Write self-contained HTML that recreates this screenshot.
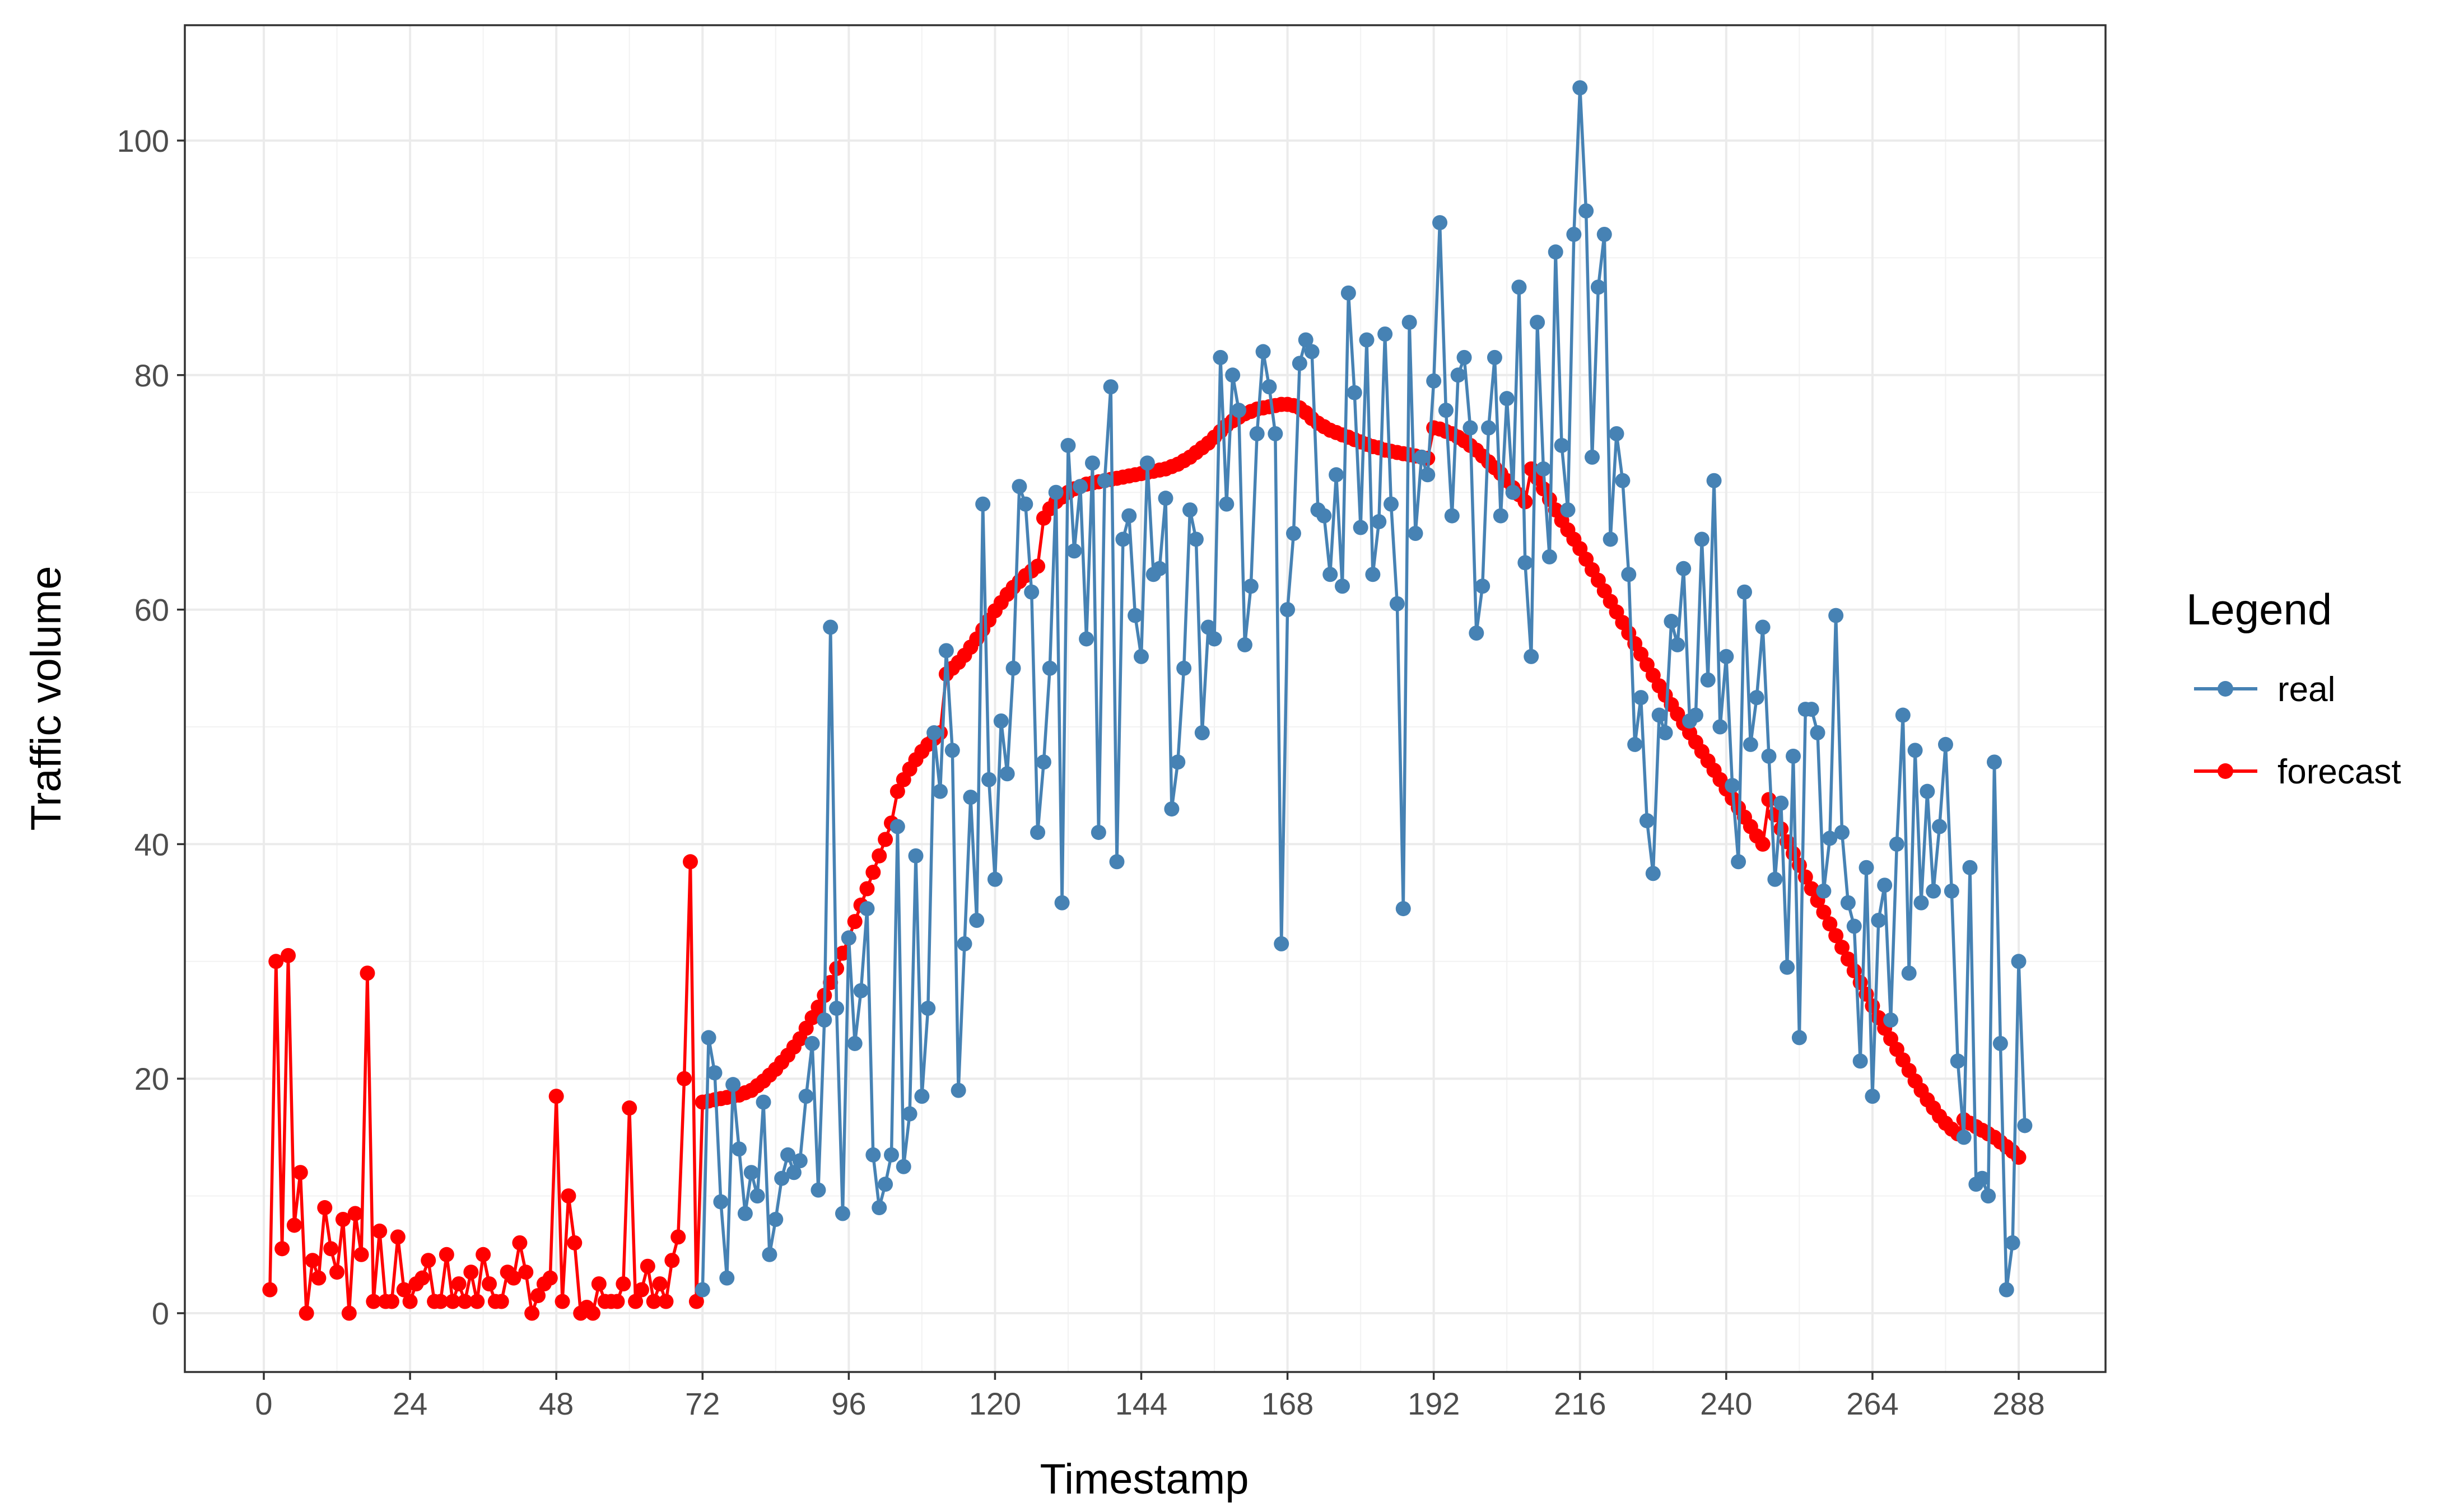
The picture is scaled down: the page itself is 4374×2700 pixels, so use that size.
<!DOCTYPE html>
<html><head><meta charset="utf-8">
<style>
html,body{margin:0;padding:0;background:#fff;}
svg{display:block;font-family:"Liberation Sans",Arial,sans-serif;}
</style></head>
<body>
<svg id="chart" width="4374" height="2700" viewBox="0 0 4374 2700" xmlns="http://www.w3.org/2000/svg">
<rect x="0" y="0" width="4374" height="2700" fill="#fff"/>
<g id="grid"></g>
<g id="series"></g>
<rect x="330" y="45" width="3429" height="2405" fill="none" stroke="#333" stroke-width="3.5"/>
<g id="axes"></g>
<text x="2043" y="2667" font-size="76" text-anchor="middle" fill="#000">Timestamp</text>
<text x="0" y="0" font-size="76" text-anchor="middle" fill="#000" transform="translate(108,1247) rotate(-90)">Traffic volume</text>
<g>
<text x="3903" y="1115" font-size="78" fill="#000">Legend</text>
<g>
<line x1="3917" y1="1230" x2="4030" y2="1230" stroke="#4682b4" stroke-width="6"/>
<circle cx="3973" cy="1230" r="14" fill="#4682b4"/>
<text x="4066" y="1252" font-size="62" fill="#000">real</text>
</g>
<g>
<line x1="3917" y1="1377" x2="4030" y2="1377" stroke="#ff0000" stroke-width="6"/>
<circle cx="3973" cy="1377" r="14" fill="#ff0000"/>
<text x="4066" y="1399" font-size="62" fill="#000">forecast</text>
</g>
</g>
</svg>
<script>
const xTicks = [0,24,48,72,96,120,144,168,192,216,240,264,288];
const yTicks = [0,20,40,60,80,100];
const realStart = 72;
const realValues = [2,23.5,20.5,9.5,3,19.5,14,8.5,12,10,18,5,8,11.5,13.5,12,13,18.5,23,10.5,25,58.5,26,8.5,32,23,27.5,34.5,13.5,9,11,13.5,41.5,12.5,17,39,18.5,26,49.5,44.5,56.5,48,19,31.5,44,33.5,69,45.5,37,50.5,46,55,70.5,69,61.5,41,47,55,70,35,74,65,70.5,57.5,72.5,41,71,79,38.5,66,68,59.5,56,72.5,63,63.5,69.5,43,47,55,68.5,66,49.5,58.5,57.5,81.5,69,80,77,57,62,75,82,79,75,31.5,60,66.5,81,83,82,68.5,68,63,71.5,62,87,78.5,67,83,63,67.5,83.5,69,60.5,34.5,84.5,66.5,73,71.5,79.5,93,77,68,80,81.5,75.5,58,62,75.5,81.5,68,78,70,87.5,64,56,84.5,72,64.5,90.5,74,68.5,92,104.5,94,73,87.5,92,66,75,71,63,48.5,52.5,42,37.5,51,49.5,59,57,63.5,50.5,51,66,54,71,50,56,45,38.5,61.5,48.5,52.5,58.5,47.5,37,43.5,29.5,47.5,23.5,51.5,51.5,49.5,36,40.5,59.5,41,35,33,21.5,38,18.5,33.5,36.5,25,40,51,29,48,35,44.5,36,41.5,48.5,36,21.5,15,38,11,11.5,10,47,23,2,6,30,16];
const forecastStart = 1;
const forecastValues = [2,30,5.5,30.5,7.5,12,0,4.5,3,9,5.5,3.5,8,0,8.5,5,29,1,7,1,1,6.5,2,1,2.5,3,4.5,1,1,5,1,2.5,1,3.5,1,5,2.5,1,1,3.5,3,6,3.5,0,1.5,2.5,3,18.5,1,10,6,0,0.5,0,2.5,1,1,1,2.5,17.5,1,2,4,1,2.5,1,4.5,6.5,20,38.5,1,18,
18.1,18.2,18.3,18.4,18.5,18.6,18.8,19.0,
19.4,19.8,20.3,20.8,21.4,22.0,22.7,23.4,
24.3,25.2,26.1,27.1,28.2,29.4,30.7,32.0,
33.4,34.8,36.2,37.6,39.0,40.4,41.8,44.5,
45.5,46.4,47.2,47.9,48.5,49.0,49.5,
54.5,55.0,55.5,56.1,56.8,57.5,58.3,59.1,59.9,
60.6,61.3,61.9,62.4,62.9,63.3,63.7,
67.8,68.6,69.2,69.6,70.0,70.3,70.5,70.7,70.8,
70.9,71.0,71.1,71.2,71.3,71.4,71.5,71.6,71.7,71.8,71.9,72.0,
72.2,72.4,72.7,73.0,73.4,73.8,74.2,74.7,75.2,75.7,76.1,76.4,
76.7,76.9,77.1,77.2,77.3,77.4,77.5,77.5,77.4,77.2,76.8,76.3,
75.9,75.6,75.3,75.1,74.9,74.7,74.5,74.3,74.1,73.9,73.8,73.6,
73.5,73.4,73.3,73.2,73.1,73.0,72.9,
75.5,75.4,75.2,75.0,74.7,74.4,74.0,73.6,73.1,72.6,72.1,71.6,
71.0,70.4,69.8,69.2,72.0,71.2,70.3,69.4,68.5,67.6,66.8,66.0,
65.2,64.3,63.4,62.5,61.6,60.7,59.8,58.9,58.0,57.1,56.2,55.3,
54.4,53.5,52.7,51.9,51.1,50.3,49.5,48.7,47.9,47.1,46.3,45.5,
44.7,43.9,43.1,42.3,41.5,40.7,40.0,43.8,42.5,41.3,40.2,39.2,
38.2,37.2,36.2,35.2,34.2,33.2,32.2,31.2,30.2,29.2,28.2,27.2,
26.2,25.2,24.3,23.4,22.5,21.6,20.7,19.8,19.0,18.2,17.5,16.8,
16.2,15.7,15.3,16.5,16.2,15.9,15.6,15.3,15.0,14.6,14.2,13.8,13.3];

const NS = "http://www.w3.org/2000/svg";
const PL = 330, PR = 3759, PT = 45, PB = 2450;
function xs(t){ return 471 + t * (3604 - 471) / 288; }
function ys(v){ return 2345 - v * (2345 - 251) / 100; }
function mk(tag, attrs, parent){
  const e = document.createElementNS(NS, tag);
  for (const k in attrs) e.setAttribute(k, attrs[k]);
  parent.appendChild(e);
  return e;
}
const grid = document.getElementById('grid');
const axes = document.getElementById('axes');
const series = document.getElementById('series');

// minor grid
for (let i = 0; i < xTicks.length - 1; i++) {
  const t = (xTicks[i] + xTicks[i+1]) / 2;
  const l = mk('line', {x1: xs(t), x2: xs(t), y1: PT, y2: PB, stroke: '#f2f2f2', 'stroke-width': 2}, grid);
  
  
}
for (let i = 0; i < yTicks.length - 1; i++) {
  const v = (yTicks[i] + yTicks[i+1]) / 2;
  const l = mk('line', {x1: PL, x2: PR, y1: ys(v), y2: ys(v), stroke: '#f2f2f2', 'stroke-width': 2}, grid);
  
  
}
// major grid + ticks
xTicks.forEach(t => {
  const l = mk('line', {x1: xs(t), x2: xs(t), y1: PT, y2: PB, stroke: '#ebebeb', 'stroke-width': 4}, grid);
  
  
  const tk = mk('line', {x1: xs(t), x2: xs(t), y1: PB, y2: PB + 14, stroke: '#333', 'stroke-width': 3.5}, axes);
  
  
  const tx = mk('text', {x: xs(t), y: PB + 76, 'font-size': 56, 'text-anchor': 'middle', fill: '#4d4d4d'}, axes);
  tx.textContent = String(t);
  
  
});
yTicks.forEach(v => {
  const l = mk('line', {x1: PL, x2: PR, y1: ys(v), y2: ys(v), stroke: '#ebebeb', 'stroke-width': 4}, grid);
  
  
  const tk = mk('line', {x1: PL - 14, x2: PL, y1: ys(v), y2: ys(v), stroke: '#333', 'stroke-width': 3.5}, axes);
  
  
  const tx = mk('text', {x: PL - 28, y: ys(v) + 20, 'font-size': 56, 'text-anchor': 'end', fill: '#4d4d4d'}, axes);
  tx.textContent = String(v);
  
  
});

function drawSeries(vals, start, color, name){
  const pts = vals.map((v, i) => xs(start + i).toFixed(1) + ',' + ys(v).toFixed(1)).join(' ');
  const line = mk('polyline', {points: pts, fill: 'none', stroke: color, 'stroke-width': 5.5, 'stroke-linejoin': 'round'}, series);
  
  
  vals.forEach((v, i) => {
    const c = mk('circle', {cx: xs(start + i), cy: ys(v), r: 13.5, fill: color}, series);
    
    
  });
}
drawSeries(forecastValues, forecastStart, '#ff0000', 'forecast');
drawSeries(realValues, realStart, '#4682b4', 'real');
</script>
</body></html>
